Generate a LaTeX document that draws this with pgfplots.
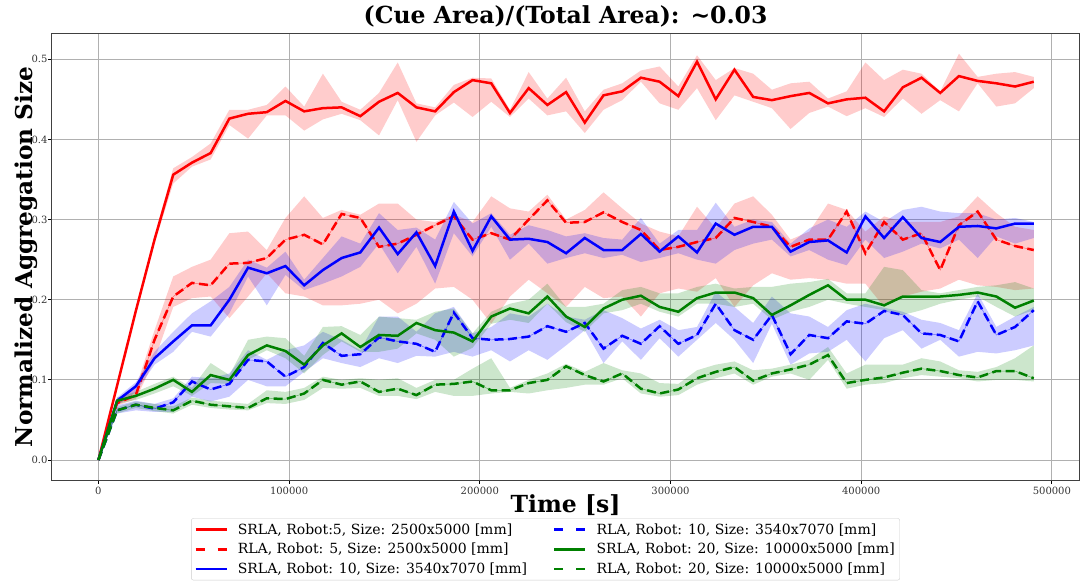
\documentclass[border=0pt]{standalone}
\usepackage{fontspec}
\setmainfont{DejaVu Serif}
\usepackage{pgfplots}
\pgfplotsset{compat=1.18}
\usepackage{pgfplotstable}
\usepgfplotslibrary{fillbetween}
\definecolor{mgreen}{RGB}{0,128,0}

\pgfplotstableread{
x m1 l1 u1 m2 l2 u2 m3 l3 u3 m4 l4 u4 m5 l5 u5 m6 l6 u6
0 0 0 0 0 0 0 0 0 0 0 0 0 0 0 0 0 0 0
9810 .093 .090 .096 .071 .068 .074 .074 .068 .078 .062 .058 .068 .074 .070 .078 .062 .058 .066
19620 .186 .183 .189 .081 .076 .090 .092 .085 .097 .069 .062 .074 .080 .075 .085 .069 .065 .073
29430 .275 .270 .280 .150 .125 .162 .127 .119 .135 .064 .060 .070 .089 .083 .095 .065 .061 .070
39240 .356 .345 .364 .204 .191 .229 .148 .135 .160 .072 .060 .077 .100 .092 .104 .062 .058 .067
49050 .371 .366 .378 .221 .202 .241 .168 .160 .183 .098 .079 .104 .085 .080 .090 .074 .069 .078
58860 .383 .375 .395 .218 .204 .250 .168 .154 .198 .088 .073 .102 .106 .096 .121 .069 .065 .074
68670 .426 .418 .437 .245 .177 .283 .200 .183 .216 .095 .079 .108 .100 .095 .106 .067 .063 .072
78480 .432 .401 .437 .246 .204 .285 .240 .229 .250 .125 .100 .137 .131 .125 .150 .065 .062 .070
88290 .434 .430 .443 .252 .233 .262 .233 .193 .240 .123 .092 .125 .143 .137 .154 .077 .071 .087
98100 .448 .430 .466 .275 .208 .302 .242 .231 .260 .104 .092 .137 .136 .127 .152 .076 .070 .085
107910 .435 .411 .441 .281 .204 .329 .218 .212 .225 .116 .110 .143 .119 .108 .130 .083 .075 .090
117720 .439 .425 .482 .269 .193 .302 .237 .220 .252 .146 .127 .160 .143 .131 .166 .100 .090 .104
127530 .440 .432 .447 .307 .193 .312 .252 .229 .279 .130 .121 .150 .158 .148 .167 .094 .089 .100
137340 .429 .424 .437 .302 .195 .306 .259 .241 .270 .132 .116 .137 .141 .135 .156 .098 .090 .102
147150 .447 .405 .458 .266 .200 .320 .290 .270 .308 .153 .127 .179 .156 .135 .179 .085 .080 .100
156960 .458 .449 .496 .270 .183 .320 .257 .233 .287 .148 .121 .179 .155 .139 .177 .089 .080 .102
166770 .440 .397 .445 .281 .195 .300 .284 .266 .290 .145 .130 .160 .171 .158 .175 .081 .076 .090
176580 .435 .430 .440 .293 .214 .297 .242 .220 .275 .135 .129 .183 .162 .150 .185 .094 .085 .100
186390 .459 .446 .468 .304 .216 .306 .310 .283 .322 .184 .135 .191 .159 .129 .189 .095 .080 .100
196200 .474 .428 .477 .275 .200 .297 .261 .254 .295 .152 .129 .158 .148 .140 .158 .098 .080 .114
206010 .470 .447 .476 .283 .170 .329 .304 .291 .308 .150 .137 .166 .179 .170 .185 .087 .083 .127
215820 .433 .428 .437 .275 .204 .314 .275 .250 .281 .151 .123 .183 .189 .175 .195 .087 .085 .090
225630 .464 .451 .484 .300 .225 .310 .276 .270 .293 .154 .137 .179 .183 .171 .200 .096 .083 .100
235440 .443 .430 .451 .324 .208 .331 .272 .245 .287 .167 .125 .195 .204 .195 .220 .100 .087 .108
245250 .459 .435 .477 .296 .191 .300 .258 .252 .279 .160 .143 .179 .179 .172 .191 .117 .090 .120
255060 .421 .408 .435 .297 .216 .312 .277 .258 .283 .171 .162 .175 .166 .160 .191 .106 .094 .110
264870 .455 .437 .462 .309 .202 .334 .262 .252 .277 .139 .121 .187 .189 .183 .195 .098 .094 .121
274680 .460 .449 .470 .297 .204 .314 .262 .256 .275 .155 .148 .177 .200 .187 .212 .108 .102 .112
284490 .477 .472 .486 .287 .179 .295 .282 .247 .302 .145 .125 .164 .205 .195 .216 .089 .083 .108
294300 .472 .445 .491 .262 .208 .285 .260 .252 .270 .167 .152 .175 .191 .185 .208 .083 .079 .096
304110 .454 .437 .466 .266 .214 .279 .279 .258 .287 .145 .129 .162 .185 .179 .208 .088 .081 .095
313920 .497 .464 .505 .272 .210 .316 .259 .250 .287 .156 .150 .166 .202 .195 .216 .102 .094 .112
323730 .450 .424 .474 .277 .227 .289 .295 .245 .321 .195 .171 .210 .209 .195 .220 .110 .102 .119
333540 .487 .455 .489 .302 .191 .320 .281 .262 .291 .162 .150 .191 .209 .191 .214 .116 .108 .123
343350 .453 .447 .482 .297 .218 .329 .291 .270 .300 .150 .121 .171 .202 .195 .216 .099 .094 .112
353160 .449 .439 .462 .291 .233 .306 .291 .275 .297 .181 .170 .204 .181 .175 .216 .108 .104 .114
362970 .454 .413 .470 .266 .225 .275 .260 .254 .270 .132 .119 .183 .193 .185 .220 .113 .108 .119
372780 .458 .433 .472 .275 .227 .285 .272 .262 .289 .156 .133 .179 .206 .191 .222 .119 .100 .125
382590 .445 .441 .451 .275 .225 .320 .274 .250 .300 .152 .135 .166 .218 .200 .226 .131 .125 .141
392400 .450 .429 .460 .310 .220 .312 .259 .243 .291 .173 .150 .187 .200 .195 .208 .096 .089 .108
402210 .452 .439 .496 .258 .220 .285 .304 .275 .310 .170 .123 .195 .200 .191 .208 .100 .094 .119
412020 .435 .428 .474 .297 .191 .304 .277 .252 .297 .186 .152 .190 .193 .187 .241 .103 .096 .119
421830 .465 .451 .487 .275 .204 .297 .303 .260 .312 .181 .162 .185 .204 .181 .237 .109 .102 .119
431640 .477 .432 .482 .283 .210 .297 .277 .270 .316 .158 .139 .175 .204 .187 .212 .114 .106 .127
441450 .458 .449 .460 .237 .214 .297 .272 .264 .310 .156 .150 .171 .204 .195 .208 .111 .104 .123
451260 .479 .435 .507 .293 .225 .304 .291 .275 .308 .148 .129 .162 .206 .200 .212 .106 .102 .112
461070 .473 .470 .478 .310 .218 .329 .292 .252 .308 .198 .135 .208 .209 .204 .216 .103 .098 .110
470880 .470 .441 .482 .275 .216 .308 .289 .279 .300 .156 .133 .166 .204 .191 .218 .111 .100 .116
480690 .466 .445 .484 .267 .212 .291 .295 .270 .302 .166 .137 .179 .190 .179 .222 .111 .100 .127
490500 .472 .464 .478 .262 .214 .287 .295 .277 .297 .187 .143 .191 .199 .187 .214 .102 .098 .143
}\data

\begin{document}
\begin{tikzpicture}
\begin{axis}[
  at={(0pt,0pt)}, anchor=south west,
  scale only axis, width=1027.8pt, height=447pt,
  xmin=-24500, xmax=514500, ymin=-0.0253, ymax=0.5324,
  scaled x ticks=false, scaled y ticks=false,
  xtick={0,100000,200000,300000,400000,500000},
  xticklabels={0,100000,200000,300000,400000,500000},
  ytick={0,0.1,0.2,0.3,0.4,0.5},
  yticklabels={0.0,0.1,0.2,0.3,0.4,0.5},
  tick label style={font=\fontsize{10}{12}\selectfont, black!80},
  yticklabel style={inner xsep=0.5pt},
  tick align=outside, xtick pos=bottom, ytick pos=left,
  major tick length=3.5pt,
  tick style={black, line width=0.8pt},
  grid=major,
  grid style={color=black!31, line width=0.8pt},
  axis line style={black!75, line width=1.2pt},
  title={\bfseries (Cue Area)/(Total Area): \textasciitilde0.03},
  title style={font=\fontsize{23.5}{28}\selectfont, at={(0.5,1)}, anchor=base, yshift=3.7pt},
  xlabel={\bfseries Time [s]},
  xlabel style={font=\fontsize{23.5}{28}\selectfont, at={(0.5,0)}, anchor=base, yshift=-32pt},
  ylabel={\bfseries Normalized Aggregation Size},
  ylabel style={font=\fontsize{23.2}{28}\selectfont, at={(0,0.5)}, anchor=base, yshift=19.5pt},
  legend columns=2,
  legend cell align=left,
  legend image code/.code={\draw[#1] (0pt,0pt) -- (31pt,0pt);},
  legend style={at={(0.4805,-0.085)}, anchor=north, draw=black!20, rounded corners=2pt,
    font=\fontsize{14}{16.5}\selectfont, row sep=3.6pt, inner xsep=3pt, inner ysep=3pt,
    /tikz/every odd column/.append style={column sep=8pt},
    /tikz/every even column/.append style={column sep=24pt}},
]
% bands
\addplot[name path=u1, draw=none, forget plot] table[x=x,y=u1]{\data};
\addplot[name path=l1, draw=none, forget plot] table[x=x,y=l1]{\data};
\addplot[red, fill opacity=0.2, draw=none, forget plot] fill between[of=u1 and l1];
\addplot[name path=u2, draw=none, forget plot] table[x=x,y=u2]{\data};
\addplot[name path=l2, draw=none, forget plot] table[x=x,y=l2]{\data};
\addplot[red, fill opacity=0.2, draw=none, forget plot] fill between[of=u2 and l2];
\addplot[name path=u3, draw=none, forget plot] table[x=x,y=u3]{\data};
\addplot[name path=l3, draw=none, forget plot] table[x=x,y=l3]{\data};
\addplot[blue, fill opacity=0.2, draw=none, forget plot] fill between[of=u3 and l3];
\addplot[name path=u4, draw=none, forget plot] table[x=x,y=u4]{\data};
\addplot[name path=l4, draw=none, forget plot] table[x=x,y=l4]{\data};
\addplot[blue, fill opacity=0.2, draw=none, forget plot] fill between[of=u4 and l4];
\addplot[name path=u5, draw=none, forget plot] table[x=x,y=u5]{\data};
\addplot[name path=l5, draw=none, forget plot] table[x=x,y=l5]{\data};
\addplot[mgreen, fill opacity=0.2, draw=none, forget plot] fill between[of=u5 and l5];
\addplot[name path=u6, draw=none, forget plot] table[x=x,y=u6]{\data};
\addplot[name path=l6, draw=none, forget plot] table[x=x,y=l6]{\data};
\addplot[mgreen, fill opacity=0.2, draw=none, forget plot] fill between[of=u6 and l6];
% thin guide lines under dashed
\addplot[red, line width=0.5pt, opacity=0.5, forget plot] table[x=x,y=m2]{\data};
\addplot[blue, line width=0.5pt, opacity=0.5, forget plot] table[x=x,y=m4]{\data};
\addplot[mgreen, line width=0.5pt, opacity=0.5, forget plot] table[x=x,y=m6]{\data};
% mean lines
\addplot[red, line width=2.5pt, forget plot] table[x=x,y=m1]{\data};
\addplot[red, line width=2.5pt, dash pattern=on 9pt off 4.5pt, forget plot] table[x=x,y=m2]{\data};
\addplot[blue, line width=2.5pt, forget plot] table[x=x,y=m3]{\data};
\addplot[blue, line width=2.5pt, dash pattern=on 9pt off 4.5pt, forget plot] table[x=x,y=m4]{\data};
\addplot[mgreen, line width=2.5pt, forget plot] table[x=x,y=m5]{\data};
\addplot[mgreen, line width=2.5pt, dash pattern=on 9pt off 4.5pt, forget plot] table[x=x,y=m6]{\data};
% legend (column-major order as in reference)
\addlegendimage{red, line width=2.5pt}
\addlegendentry{SRLA, Robot:5, Size: 2500x5000 [mm]}
\addlegendimage{blue, line width=2.5pt, dash pattern=on 9pt off 13pt}
\addlegendentry{RLA, Robot: 10, Size: 3540x7070 [mm]}
\addlegendimage{red, line width=2.5pt, dash pattern=on 9pt off 13pt}
\addlegendentry{RLA, Robot: 5, Size: 2500x5000 [mm]}
\addlegendimage{mgreen, line width=2.5pt}
\addlegendentry{SRLA, Robot: 20, Size: 10000x5000 [mm]}
\addlegendimage{blue, line width=2.5pt}
\addlegendentry{SRLA, Robot: 10, Size: 3540x7070 [mm]}
\addlegendimage{mgreen, line width=2.5pt, dash pattern=on 9pt off 13pt}
\addlegendentry{RLA, Robot: 20, Size: 10000x5000 [mm]}
\end{axis}
\pgfresetboundingbox
\path[use as bounding box] (-51.7pt,-100.7pt) rectangle (1029.3pt,480.3pt);
\end{tikzpicture}
\end{document}
